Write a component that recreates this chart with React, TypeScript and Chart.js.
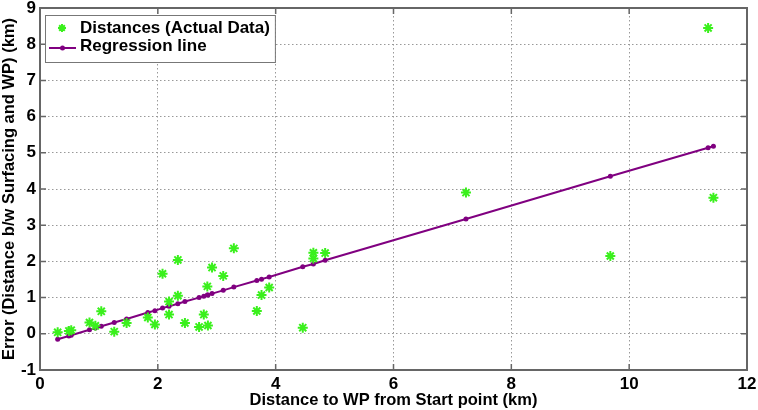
import { useEffect, useRef } from "react"
import { Chart, registerables } from "chart.js"

Chart.register(...registerables)

// measured points: distance to WP (km) vs error (km)
const distKm = [
    0.3, 0.49, 0.53, 0.84, 0.94, 1.04, 1.26, 1.47, 1.83, 1.95, 2.08, 2.19, 2.19, 2.34, 2.34, 2.46, 2.7,
    2.78, 2.84, 2.85, 2.92, 3.11, 3.29, 3.68, 3.76, 3.89, 4.46, 4.64, 4.64, 4.84, 7.23, 9.68, 11.34, 11.43,
]
const errorKm = [
    0.04, 0.08, 0.1, 0.31, 0.22, 0.62, 0.06, 0.3, 0.45, 0.26, 1.66, 0.89, 0.53, 2.04, 1.05, 0.3, 0.19,
    0.53, 1.31, 0.23, 1.83, 1.6, 2.36, 0.63, 1.07, 1.28, 0.17, 2.24, 2.08, 2.23, 3.9, 2.15, 8.45, 3.76,
]

// regression line at each marker
const regX = [
    0.3, 0.49, 0.53, 0.84, 0.94, 1.04, 1.26, 1.47, 1.83, 1.95, 2.08, 2.19, 2.34, 2.46, 2.7, 2.78, 2.84,
    2.85, 2.92, 3.11, 3.29, 3.68, 3.76, 3.89, 4.46, 4.64, 4.84, 7.23, 9.68, 11.34, 11.43,
]
const regY = [
    -0.15, -0.06, -0.04, 0.11, 0.16, 0.21, 0.31, 0.41, 0.59, 0.64, 0.71, 0.76, 0.83, 0.89, 1.0, 1.04, 1.07,
    1.07, 1.11, 1.2, 1.29, 1.47, 1.51, 1.57, 1.85, 1.93, 2.03, 3.17, 4.35, 5.14, 5.18,
]

const xTicks = [0, 2, 4, 6, 8, 10, 12]
const yTicks = [-1, 0, 1, 2, 3, 4, 5, 6, 7, 8, 9]

const FONT = '"Liberation Sans", Arial, sans-serif'
const GREEN = "#3af01c"
const PURPLE = "#800080"
const AXIS = "#666"

// matlab style box, inward ticks and the legend inside the plot
const matlabBox = {
    id: "matlabBox",
    afterDraw(chart: any) {
        const { ctx, chartArea: a, scales } = chart
        ctx.save()
        ctx.strokeStyle = AXIS
        ctx.lineWidth = 1.5
        ctx.beginPath()
        scales.x.ticks.forEach((t: any) => {
            const px = scales.x.getPixelForValue(t.value)
            ctx.moveTo(px, a.bottom)
            ctx.lineTo(px, a.bottom - 6)
            ctx.moveTo(px, a.top)
            ctx.lineTo(px, a.top + 6)
        })
        scales.y.ticks.forEach((t: any) => {
            const py = scales.y.getPixelForValue(t.value)
            ctx.moveTo(a.left, py)
            ctx.lineTo(a.left + 6, py)
            ctx.moveTo(a.right, py)
            ctx.lineTo(a.right - 6, py)
        })
        ctx.stroke()
        ctx.lineWidth = 2
        ctx.strokeRect(a.left, a.top, a.right - a.left, a.bottom - a.top)

        // legend
        const lx = a.left + 5
        const ly = a.top + 7
        ctx.font = `bold 17px ${FONT}`
        const labels = chart.data.datasets.map((d: any) => d.label)
        const tw = Math.max(...labels.map((l: string) => ctx.measureText(l).width))
        const bw = 35 + tw + 5
        const bh = 47
        ctx.fillStyle = "#fff"
        ctx.fillRect(lx, ly, bw, bh)
        ctx.strokeStyle = "#777"
        ctx.lineWidth = 1
        ctx.strokeRect(lx + 0.5, ly + 0.5, bw, bh)

        // star entry
        const sx = lx + 17
        const sy = ly + 13
        ctx.strokeStyle = GREEN
        ctx.lineWidth = 2
        ctx.beginPath()
        for (let k = 0; k < 4; k++) {
            const ang = (k * Math.PI) / 4
            ctx.moveTo(sx - 4 * Math.cos(ang), sy - 4 * Math.sin(ang))
            ctx.lineTo(sx + 4 * Math.cos(ang), sy + 4 * Math.sin(ang))
        }
        ctx.stroke()

        // line entry
        const ry = ly + 33
        ctx.strokeStyle = PURPLE
        ctx.lineWidth = 2
        ctx.beginPath()
        ctx.moveTo(lx + 4, ry)
        ctx.lineTo(lx + 31, ry)
        ctx.stroke()
        ctx.fillStyle = PURPLE
        ctx.beginPath()
        ctx.arc(lx + 17.5, ry, 2.5, 0, Math.PI * 2)
        ctx.fill()

        ctx.fillStyle = "#000"
        ctx.textBaseline = "middle"
        ctx.textAlign = "left"
        ctx.fillText(labels[0], lx + 35, sy)
        ctx.fillText(labels[1], lx + 35, ry - 2)
        ctx.restore()
    },
}

export default function App() {
    const chartRef = useRef<HTMLCanvasElement>(null)
    const chartInstance = useRef<Chart | null>(null)

    useEffect(() => {
        if (!chartRef.current) return
        const ctx = chartRef.current.getContext("2d")
        if (!ctx) return

        if (chartInstance.current) {
            chartInstance.current.destroy()
        }

        chartInstance.current = new Chart(ctx, {
            type: "scatter",
            data: {
                datasets: [
                    {
                        label: "Distances (Actual Data)",
                        data: distKm.map((x, i) => ({ x, y: errorKm[i] })),
                        pointStyle: "star",
                        radius: 5,
                        borderColor: GREEN,
                        backgroundColor: GREEN,
                        borderWidth: 2,
                        showLine: false,
                        order: 1,
                    },
                    {
                        label: "Regression line",
                        data: regX.map((x, i) => ({ x, y: regY[i] })),
                        showLine: true,
                        borderColor: PURPLE,
                        backgroundColor: PURPLE,
                        borderWidth: 2,
                        pointRadius: 2.5,
                        pointBorderWidth: 0,
                        order: 2,
                    },
                ],
            },
            options: {
                responsive: true,
                maintainAspectRatio: false,
                animation: false,
                layout: { padding: { top: 8, right: 11, left: 0, bottom: 0 } },
                plugins: {
                    legend: { display: false },
                    tooltip: { enabled: false },
                },
                scales: {
                    x: {
                        type: "linear",
                        min: 0,
                        max: 12,
                        afterBuildTicks: (s: any) => {
                            s.ticks = xTicks.map((v) => ({ value: v }))
                        },
                        afterFit: (s: any) => {
                            s.height = 40
                            s.paddingLeft = 0
                            s.paddingRight = 0
                        },
                        ticks: {
                            color: "#000",
                            padding: 4,
                            maxRotation: 0,
                            font: { family: FONT, size: 17, weight: "bold" },
                        },
                        grid: { color: "#999", drawTicks: false, lineWidth: 1 },
                        border: { display: false, dash: [1.5, 2.5] },
                        title: {
                            display: true,
                            text: "Distance to WP from Start point (km)",
                            color: "#000",
                            padding: { top: 2, bottom: 0 },
                            font: { family: FONT, size: 16.5, weight: "bold" },
                        },
                    },
                    y: {
                        type: "linear",
                        min: -1,
                        max: 9,
                        afterBuildTicks: (s: any) => {
                            s.ticks = yTicks.map((v) => ({ value: v }))
                        },
                        afterFit: (s: any) => {
                            s.width = 40
                            s.paddingTop = 0
                            s.paddingBottom = 0
                        },
                        ticks: {
                            color: "#000",
                            padding: 4,
                            font: { family: FONT, size: 17, weight: "bold" },
                        },
                        grid: { color: "#999", drawTicks: false, lineWidth: 1 },
                        border: { display: false, dash: [1.5, 2.5] },
                        title: {
                            display: true,
                            text: "Error (Distance b/w Surfacing and WP) (km)",
                            color: "#000",
                            padding: 0,
                            font: { family: FONT, size: 16.5, weight: "bold" },
                        },
                    },
                },
            },
            plugins: [matlabBox],
        })

        return () => {
            if (chartInstance.current) {
                chartInstance.current.destroy()
                chartInstance.current = null
            }
        }
    }, [])

    return (
        <div style={{ position: "fixed", left: 0, top: 0, width: 758, height: 410, background: "#fff" }}>
            <canvas ref={chartRef}></canvas>
        </div>
    )
}
